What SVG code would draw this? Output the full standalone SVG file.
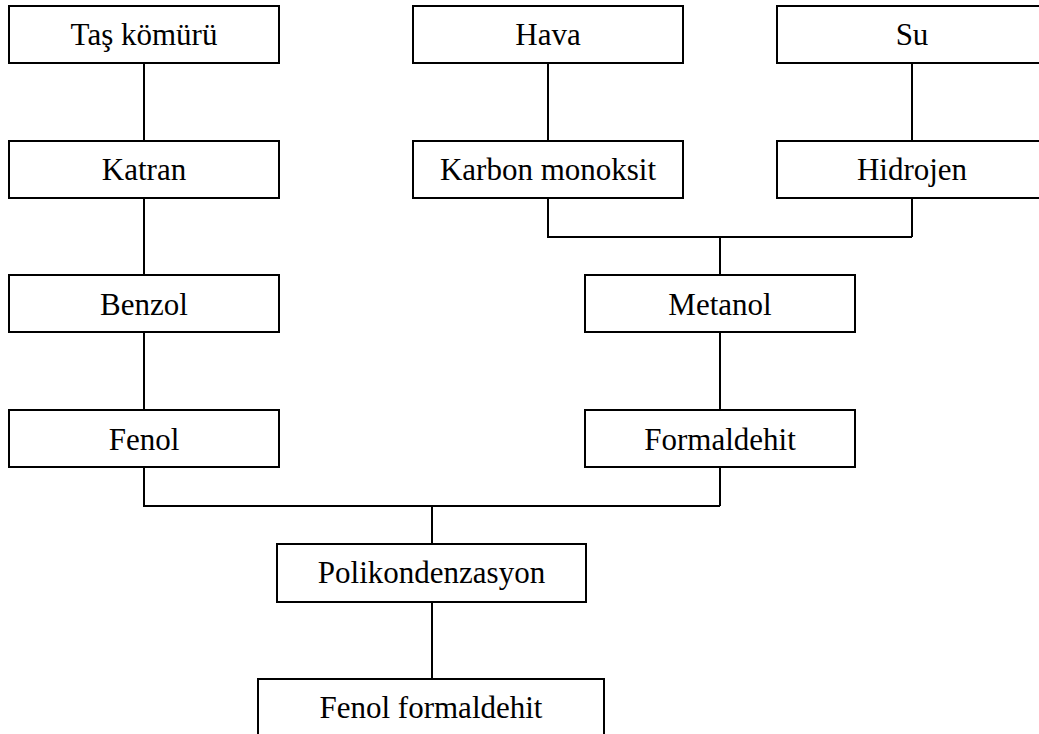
<svg xmlns="http://www.w3.org/2000/svg" width="1039" height="734" viewBox="0 0 1039 734">
<style>
.box{fill:#fff;stroke:#000;stroke-width:2}
.lbl{font-size:31px;fill:#000;text-anchor:middle}
.con{fill:none;stroke:#000;stroke-width:2}
</style>
<rect width="1039" height="734" fill="#fff"/>
<g id="connectors" class="con">
<path d="M144 63V141M144 198V275M144 332V410M144 467V506H720"/>
<path d="M548 63V141M548 198V237H912M912 63V141M912 198V237"/>
<path d="M720 237V275M720 332V410M720 467V506"/>
<path d="M432 506V544M432 602V679"/>
</g>
<g font-family="'Liberation Serif', 'DejaVu Serif', serif">
<g id="tas-komuru"><rect class="box" x="9" y="6" width="270" height="57"/><text class="lbl" x="144" y="45">Taş kömürü</text></g>
<g id="hava"><rect class="box" x="413" y="6" width="270" height="57"/><text class="lbl" x="548" y="45">Hava</text></g>
<g id="su"><rect class="box" x="777" y="6" width="280" height="57"/><text class="lbl" x="912" y="45">Su</text></g>
<g id="katran"><rect class="box" x="9" y="141" width="270" height="57"/><text class="lbl" x="144" y="180">Katran</text></g>
<g id="karbon-monoksit"><rect class="box" x="413" y="141" width="270" height="57"/><text class="lbl" x="548" y="180">Karbon monoksit</text></g>
<g id="hidrojen"><rect class="box" x="777" y="141" width="280" height="57"/><text class="lbl" x="912" y="180">Hidrojen</text></g>
<g id="benzol"><rect class="box" x="9" y="275" width="270" height="57"/><text class="lbl" x="144" y="315">Benzol</text></g>
<g id="metanol"><rect class="box" x="585" y="275" width="270" height="57"/><text class="lbl" x="720" y="315">Metanol</text></g>
<g id="fenol"><rect class="box" x="9" y="410" width="270" height="57"/><text class="lbl" x="144" y="450">Fenol</text></g>
<g id="formaldehit"><rect class="box" x="585" y="410" width="270" height="57"/><text class="lbl" x="720" y="450">Formaldehit</text></g>
<g id="polikondenzasyon"><rect class="box" x="277" y="544" width="309" height="58"/><text class="lbl" x="431.5" y="583">Polikondenzasyon</text></g>
<g id="fenol-formaldehit"><rect class="box" x="258" y="679" width="346" height="80"/><text class="lbl" x="431" y="718">Fenol formaldehit</text></g>
</g>
</svg>
